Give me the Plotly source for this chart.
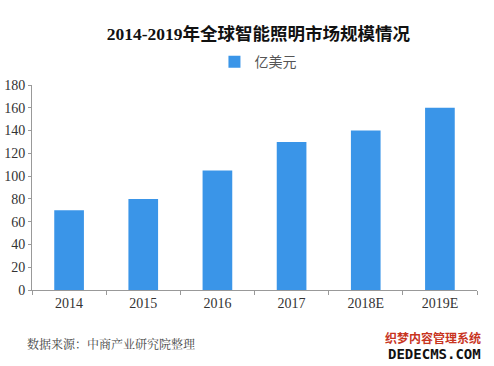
import plotly.graph_objects as go

categories = ["2014", "2015", "2016", "2017", "2018E", "2019E"]
values = [70, 80, 105, 130, 140, 160]
series_name = "亿美元"
y_ticks = [0, 20, 40, 60, 80, 100, 120, 140, 160, 180]

fig = go.Figure()
fig.add_trace(go.Bar(
    x=categories, y=values, name=series_name,
    marker=dict(color="#3A95E8", line=dict(width=0)),
    width=0.4,
))

serif = "Liberation Serif, Noto Serif CJK SC, Noto Sans CJK SC, serif"
fig.update_layout(
    width=494, height=366,
    margin=dict(l=32, r=17, t=85, b=76, autoexpand=False),
    paper_bgcolor="white", plot_bgcolor="white",
    title=dict(text="<b>2014-2019年全球智能照明市场规模情况</b>",
               x=0.523, xanchor="center", y=0.907, yanchor="middle",
               font=dict(family="Liberation Serif, Noto Sans CJK SC", size=17.5, color="#111111")),
    showlegend=True,
    legend=dict(orientation="h", x=0.41, xanchor="left", y=0.83, yanchor="middle",
                yref="container",
                font=dict(family="Noto Sans CJK SC", size=14, color="#555555"),
                itemwidth=30, bgcolor="rgba(0,0,0,0)"),
    xaxis=dict(type="category", showline=True, linecolor="#999999", linewidth=1,
               ticks="outside", tickson="boundaries", ticklen=4, tickcolor="#999999",
               tickfont=dict(family=serif, size=14, color="#333333"),
               showgrid=False, zeroline=False),
    yaxis=dict(range=[0, 180], tickvals=y_ticks, showline=True, linecolor="#999999",
               linewidth=1, ticks="outside", ticklen=3, tickcolor="#999999",
               tickfont=dict(family=serif, size=14, color="#333333"),
               showgrid=False, zeroline=False),
    bargap=0.6,
)

fig.add_annotation(text="数据来源：中商产业研究院整理", xref="paper", yref="paper",
                   x=-0.016, y=-0.259, xanchor="left", yanchor="middle", showarrow=False,
                   font=dict(family="Noto Serif CJK SC, Noto Sans CJK SC", size=12, color="#444444"))
fig.add_annotation(text="<b>织梦内容管理系统</b>", xref="paper", yref="paper",
                   x=1.0135, y=-0.234, xanchor="right", yanchor="middle", showarrow=False,
                   font=dict(family="Noto Sans CJK SC", size=12, color="#C8351F"))
fig.add_annotation(text="<b>DEDECMS.COM</b>", xref="paper", yref="paper",
                   x=1.0135, y=-0.312, xanchor="right", yanchor="middle", showarrow=False,
                   font=dict(family="DejaVu Sans Mono", size=14, color="#111111"))

fig.write_html("out.html", config={"displayModeBar": False},
               post_script="document.body.style.margin='0';")
